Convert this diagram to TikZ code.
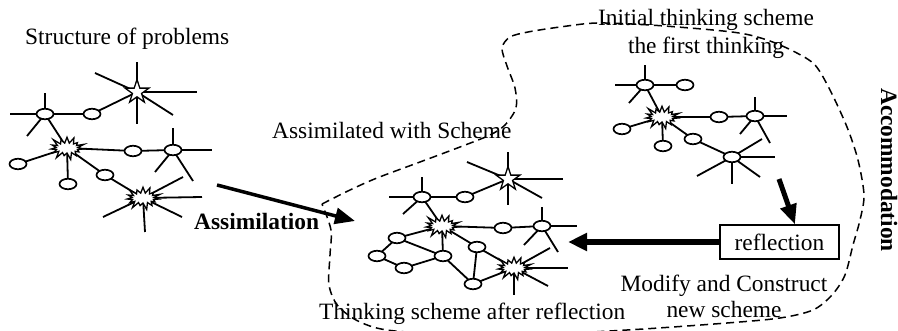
\documentclass[tikz,border=0pt]{standalone}
\usepackage{fontspec}
\setmainfont{Liberation Serif}
\usetikzlibrary{shapes.geometric,shapes.symbols,arrows.meta}
\pgfdeclarelayer{back}
\pgfsetlayers{back,main}
% spokes: free short lines leaving a node's centre
\newcommand\spk[2]{\foreach \dx/\dy in {#2}{\draw[lnk] (#1.center) -- ++(\dx,\dy);}}
\newcommand\lnks[1]{\foreach \p/\q in {#1}{\draw[lnk] (\p.center) -- (\q.center);}}
\tikzset{
  lnk/.style={line width=1.8pt},
  oval/.style={ellipse, draw, fill=white, line width=1.7pt, minimum width=17pt, minimum height=10.5pt, inner sep=0pt},
  burst/.style={starburst, draw, fill=white, line width=1.3pt, minimum width=38pt, minimum height=26pt, inner sep=0pt, starburst points=15, starburst point height=8pt},
  starnode/.style={star, star points=5, star point ratio=2.6, draw, fill=white, line width=1.3pt, minimum size=25pt, inner sep=0pt},
  lbl/.style={font=\fontsize{23.4pt}{28pt}\selectfont, inner sep=0pt},
  fatarrow/.style={-{Triangle[length=20pt,width=16pt]}},
  boundary/.style={line width=1.5pt, dash pattern=on 8pt off 5pt},
}
\begin{document}
\begin{tikzpicture}[x=1pt,y=-1pt]
\useasboundingbox (0,0) rectangle (898,331);
\clip (0,0) rectangle (898,331);

% ---------- structure of problems ----------
\node[oval] (a1) at (45,114) {};
\node[oval] (b1) at (92,114) {};
\node[starnode] (s1) at (137,92) {};
\node[burst] (x1) at (67,148) {};
\node[oval] (c1) at (18,164) {};
\node[oval] (d1) at (68,184) {};
\node[oval] (e1) at (133,151) {};
\node[oval] (f1) at (105,175) {};
\node[oval] (g1) at (173,150) {};
\node[burst] (x2) at (143,198) {};

% ---------- assimilated scheme ----------
\node[oval] (a2) at (422,197) {};
\node[oval] (b2) at (465,197) {};
\node[starnode] (s2) at (508,179) {};
\node[burst] (x3) at (442,226) {};
\node[oval] (e2) at (503,228) {};
\node[oval] (g2) at (542,226) {};
\node[oval] (h2) at (397,238) {};
\node[oval] (l2) at (377,256) {};
\node[oval] (m2) at (404,268) {};
\node[oval] (k2) at (443,256) {};
\node[oval] (f2) at (477,247) {};
\node[oval] (n2) at (473,284) {};
\node[burst] (x4) at (514,268) {};

% ---------- initial thinking scheme ----------
\node[oval] (a3) at (645,85) {};
\node[oval] (b3) at (685,85) {};
\node[burst] (x5) at (662,117) {};
\node[oval] (c3) at (622,129) {};
\node[oval] (d3) at (663,146) {};
\node[oval] (e3) at (719,117) {};
\node[oval] (f3) at (693,139) {};
\node[oval] (g3) at (755,116) {};
\node[oval] (h3) at (732,157) {};

\begin{pgfonlayer}{back}
  \spk{a1}{0/-21, -35/0, -18/22}
  \spk{s1}{0/-30, 0/32, 60/0, -42/-19, 36/23}
  \spk{g1}{0/-22, 39/0, -18/22, 20/31}
  \spk{x2}{40/-21, 59/-1, 39/19, 2/34, -40/19}
  \lnks{a1/b1, b1/s1, a1/x1, x1/c1, x1/d1, x1/e1, x1/f1, e1/g1, f1/x2}

  \spk{a2}{0/-20, -33/0, -19/17}
  \spk{s2}{0/-27, 0/26, 55/0, -41/-17, 34/19}
  \spk{g2}{0/-19, 35/0, -18/19, 16/26}
  \spk{x4}{36/-20, 54/0, 34/18, 0/27}
  \lnks{a2/b2, b2/s2, a2/x3, x3/e2, e2/g2, x3/h2, x3/k2, x3/f2, h2/l2, l2/m2, m2/k2, h2/k2, k2/n2, f2/n2, f2/x4, n2/x4}

  \spk{a3}{0/-20, -30/0, -16/18}
  \spk{g3}{0/-19, 32/0, -15/18, 15/27}
  \spk{h3}{30/-18, 43/0, 28/20, 0/27, -35/19}
  \lnks{a3/b3, a3/x5, x5/c3, x5/d3, x5/e3, x5/f3, e3/g3, f3/h3}
\end{pgfonlayer}

% ---------- labels ----------
\node[lbl, anchor=base west] (tprob) at (25,45) {Structure of problems};
\node[lbl, anchor=base west] (tasm) at (194,230) {\bfseries Assimilation};
\node[lbl, anchor=base west] (tasw) at (272,139) {Assimilated with Scheme};
\node[lbl, anchor=base] (tini) at (706,26) {Initial thinking scheme};
\node[lbl, anchor=base] (tfirst) at (706,54) {the first thinking};
\node[lbl, anchor=base] (tmod) at (724,292) {Modify and Construct};
\node[lbl, anchor=base] (tnew) at (724,318) {new scheme};
\node[lbl, anchor=base west] (tafter) at (319,320) {Thinking scheme after reflection};
\node[lbl, rotate=-90] (tacc) at (889,170) {\bfseries Accommodation};
\node[lbl, draw, line width=1.2pt, minimum width=119pt, minimum height=34pt] (refl) at (779.5,242) {reflection};

% ---------- accommodation boundary ----------
\draw[boundary] plot[smooth, tension=0.5] coordinates {
  (322,204) (350,190) (377,178) (420,162) (460,147) (490,135) (505,125)
  (516,108) (515,88) (507,66) (502,48) (510,37) (528,32) (560,27) (597,23)
  (650,25) (713,30) (745,34) (770,41) (795,52) (815,65) (830,90) (847,127)
  (858,160) (864,195) (860,220) (853,245) (845,275) (832,295) (813,310)
  (780,318) (727,323) (627,330) (500,336) (395,331) (360,322) (338,306)
  (329,285) (330,255) (331,230) (322,204)};

% ---------- arrows ----------
\coordinate (asmS) at (217,185);
\coordinate (asmE) at (355,221);
\draw[fatarrow, line width=3.5pt] (asmS) -- (asmE);
\coordinate (dnS) at (779,179);
\coordinate (dnE) at (795,224.5);
\draw[fatarrow, line width=5pt] (dnS) -- (dnE);
\coordinate (lfE) at (568,242);
\draw[-{Triangle[length=19pt,width=17pt]}, line width=5.5pt] (refl.west) -- (lfE);
\end{tikzpicture}
\end{document}
